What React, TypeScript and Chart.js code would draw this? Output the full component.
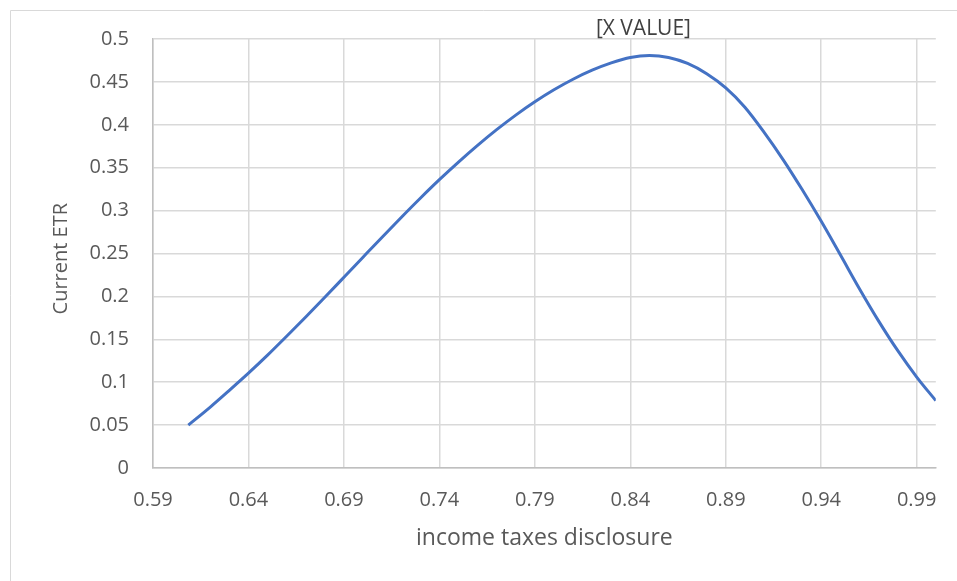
import React, { useEffect, useRef } from "react";
import { Chart, registerables } from "chart.js";

Chart.register(...registerables);

const xValues = [
  0.6085, 0.62, 0.63, 0.64, 0.65, 0.66, 0.67, 0.68, 0.69, 0.70, 0.71, 0.72, 0.73, 0.74, 0.75, 0.76, 0.77, 0.78, 0.79,
  0.80, 0.81, 0.82, 0.83, 0.84, 0.85, 0.86, 0.87, 0.88, 0.89, 0.90, 0.91, 0.92, 0.93, 0.94, 0.95, 0.96, 0.97, 0.98,
  0.99, 1.0,
];
const yValues = [
  0.05, 0.071, 0.0905, 0.1105, 0.1315, 0.1535, 0.176, 0.199, 0.2223, 0.2457, 0.269, 0.292, 0.3144, 0.336, 0.3565,
  0.376, 0.3943, 0.4113, 0.4268, 0.4408, 0.4531, 0.4636, 0.4721, 0.4785, 0.4808, 0.4785, 0.4715, 0.4595, 0.443,
  0.4205, 0.3915, 0.3595, 0.3245, 0.2875, 0.2485, 0.209, 0.1715, 0.137, 0.106, 0.0785,
];
const xTicks = [0.59, 0.64, 0.69, 0.74, 0.79, 0.84, 0.89, 0.94, 0.99];
const peakLabel = "[X VALUE]";
const xTitle = "income taxes disclosure";
const yTitle = "Current ETR  ";

const FONT = "'Open Sans', sans-serif";

export default function App() {
  const ref = useRef<HTMLCanvasElement | null>(null);
  useEffect(() => {
    if (!ref.current) return;
    const points = xValues.map((x, i) => ({ x, y: yValues[i] }));
    const borderPlugin = {
      id: "outerBorder",
      beforeDraw(chart: any) {
        const ctx = chart.ctx;
        ctx.save();
        ctx.strokeStyle = "#d9d9d9";
        ctx.lineWidth = 1;
        ctx.beginPath();
        ctx.moveTo(10.5, 581);
        ctx.lineTo(10.5, 10.5);
        ctx.lineTo(957, 10.5);
        ctx.stroke();
        ctx.restore();
      },
    };
    const labelPlugin = {
      id: "peakLabel",
      afterDatasetsDraw(chart: any) {
        const ds = chart.data.datasets[0].data as any[];
        let idx = 0;
        ds.forEach((p, i) => { if (p.y > ds[idx].y) idx = i; });
        const xs = chart.scales.x, ys = chart.scales.y;
        const px = xs.getPixelForValue(ds[idx].x);
        const py = ys.getPixelForValue(ds[idx].y);
        const ctx = chart.ctx;
        ctx.save();
        ctx.font = `21px ${FONT}`;
        ctx.fillStyle = "#404040";
        ctx.textAlign = "center";
        ctx.textBaseline = "middle";
        ctx.fillText(peakLabel, px - 6, py - 26);
        ctx.restore();
      },
    };
    const chart = new Chart(ref.current, {
      type: "scatter",
      data: {
        datasets: [
          {
            data: points,
            showLine: true,
            borderColor: "#4472C4",
            borderWidth: 3,
            pointRadius: 0,
            cubicInterpolationMode: "monotone",
            fill: false,
          },
        ],
      },
      options: {
        responsive: false,
        animation: false,
        layout: { padding: { top: 39, right: 21, left: 0, bottom: 0 } },
        plugins: { legend: { display: false }, tooltip: { enabled: false } },
        scales: {
          x: {
            type: "linear",
            min: 0.59,
            max: 1.0,
            afterBuildTicks(scale: any) {
              scale.ticks = xTicks.map((v) => ({ value: v }));
            },
            afterFit(scale: any) {
              scale.height = 113;
            },
            grid: { color: "#d9d9d9", drawTicks: false, lineWidth: 1.5 },
            border: { color: "#bfbfbf", width: 1.5 },
            ticks: {
              color: "#595959",
              font: { family: FONT, size: 20 },
              padding: 20,
              maxRotation: 0,
              callback: (v: any) => String(Math.round(Number(v) * 100) / 100),
            },
            title: {
              display: true,
              text: xTitle,
              color: "#595959",
              font: { family: FONT, size: 23 },
              padding: { top: 0, bottom: 29 },
            },
          },
          y: {
            type: "linear",
            min: 0,
            max: 0.5,
            afterFit(scale: any) {
              scale.width = 153;
            },
            grid: { color: "#d9d9d9", drawTicks: false, lineWidth: 1.5 },
            border: { color: "#bfbfbf", width: 1.5 },
            ticks: {
              stepSize: 0.05,
              color: "#595959",
              font: { family: FONT, size: 20 },
              padding: 24,
              callback: (v: any) => String(Math.round(Number(v) * 100) / 100),
            },
            title: {
              display: true,
              text: yTitle,
              color: "#595959",
              font: { family: FONT, size: 20 },
              padding: { top: 49, bottom: 0 },
            },
          },
        },
      },
      plugins: [borderPlugin, labelPlugin],
    });
    return () => chart.destroy();
  }, []);
  return (
    <div style={{ position: "absolute", left: 0, top: 0, width: 957, height: 581, background: "#fff" }}>
      <canvas ref={ref} width={957} height={581} />
    </div>
  );
}
